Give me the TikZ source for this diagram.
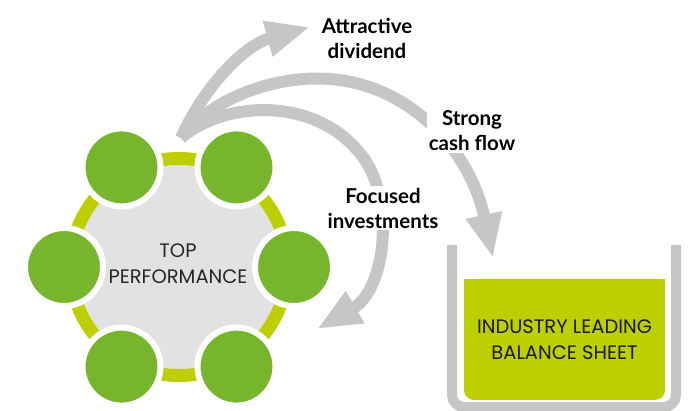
\documentclass[tikz,border=0pt]{standalone}
\usepackage{fontspec}
\setmainfont{Poppins}
\newfontfamily\labelfont{Lato}
\usetikzlibrary{arrows.meta,calc}
\definecolor{ringc}{HTML}{BDCF00}
\definecolor{dotc}{HTML}{77B62C}
\definecolor{hubc}{HTML}{E2E2E4}
\definecolor{arrc}{HTML}{C6C6C6}
\definecolor{boxc}{HTML}{BDCF00}
\begin{document}
\begin{tikzpicture}[x=1pt,y=-1pt,
  flow/.style={draw=arrc, line width=12pt, -{Triangle[length=44pt,width=34pt]}},
  dot/.style={circle, fill=dotc, draw=white, line width=6pt, minimum size=78pt, inner sep=0pt},
  plain/.style={font=\fontsize{19.5}{26}\selectfont, align=center, text=black!85},
  lbl/.style={font=\labelfont\bfseries\fontsize{20.5}{25}\selectfont, align=center, fill=white, inner sep=2pt}
]
\useasboundingbox (0,0) rectangle (696,411);
% hub
\fill[hubc] (179,267) circle (102);
\draw[ringc, line width=13pt] (179,267) circle (108.5);
\node[plain] (hub) at (178,264) {TOP\\PERFORMANCE};
\foreach \a/\n in {0/d1,60/d2,120/d3,180/d4,240/d5,300/d6}{
  \node[dot] (\n) at ($(179,267)+(\a:115)$) {};
}
% container
\draw[arrc, line width=10pt, rounded corners=12pt] (452,245) -- (452,407) -- (676,407) -- (676,245);
\fill[boxc] (464,279) rectangle (665,300);
\node[fill=boxc, rounded corners=10pt, minimum width=201pt, minimum height=121pt, plain, text=black!90] (bs) at (564.5,339.5) {INDUSTRY LEADING\\BALANCE SHEET};
% arrows
\coordinate (src) at (181,138);
\coordinate (divtip) at (310,27);
\coordinate (cftop) at (330,79);
\coordinate (cftip) at (493,258);
\coordinate (fimid) at (365,160);
\coordinate (fitip) at (317,329);
\draw[flow] (src) .. controls (205,85) and (245,45) .. (divtip);
\draw[flow] (src) .. controls (215,95) and (280,75) .. (cftop) .. controls (410,85) and (470,150) .. (cftip);
\draw[flow] (src) .. controls (225,100) and (320,95) .. (fimid) .. controls (395,205) and (385,290) .. (fitip);
% labels
\node[lbl] (ad) at (367,38) {Attractive\\dividend};
\node[lbl] (cf) at (472,131) {Strong\\cash flow};
\node[lbl] (fi) at (383,208) {Focused\\investments};
\end{tikzpicture}
\end{document}
